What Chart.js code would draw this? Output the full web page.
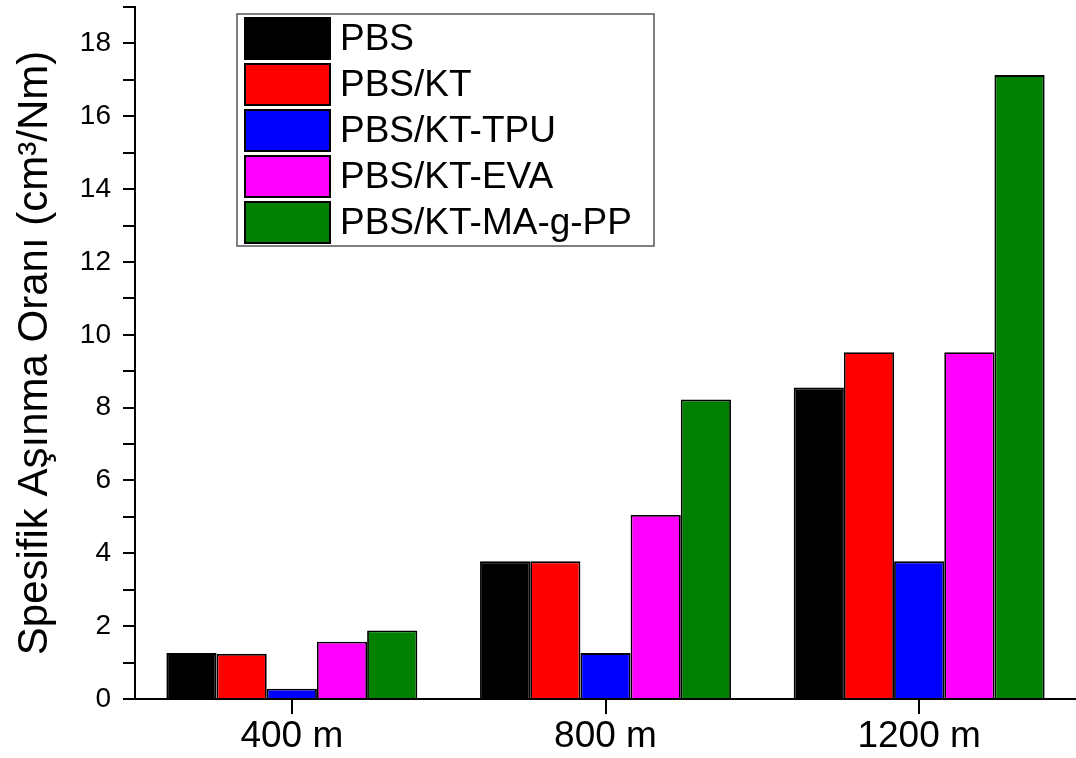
<!DOCTYPE html>
<html>
<head>
<meta charset="utf-8">
<script src="https://cdn.jsdelivr.net/npm/chart.js@4.4.1/dist/chart.umd.min.js"></script>
<style>
  html, body { margin: 0; padding: 0; background: #fff; }
  #wrap { width: 1076px; height: 758px; position: relative; }
</style>
</head>
<body>
<div id="wrap"><canvas id="c" width="1076" height="758"></canvas></div>
<script>
const categories = ['400 m', '800 m', '1200 m'];
const seriesNames = ['PBS', 'PBS/KT', 'PBS/KT-TPU', 'PBS/KT-EVA', 'PBS/KT-MA-g-PP'];
const pbs      = [1.26, 3.78, 8.55];
const pbsKT    = [1.24, 3.78, 9.52];
const pbsTPU   = [0.28, 1.26, 3.78];
const pbsEVA   = [1.57, 5.05, 9.52];
const pbsMAgPP = [1.88, 8.22, 17.13];
const yTickLabels = [0, 2, 4, 6, 8, 10, 12, 14, 16, 18];
const yTitle = 'Spesifik Aşınma Oranı (cm³/Nm)';

const colors = ['#000000', '#ff0000', '#0000ff', '#ff00ff', '#008000'];
const seriesValues = [pbs, pbsKT, pbsTPU, pbsEVA, pbsMAgPP];
const FONT = '"Liberation Sans", Arial, Helvetica, sans-serif';

const legendPlugin = {
  id: 'boxLegend',
  afterDraw(chart) {
    const ctx = chart.ctx;
    const bx = 237, by = 14, bw = 417, bh = 232;
    ctx.save();
    ctx.fillStyle = '#fff';
    ctx.fillRect(bx, by, bw, bh);
    ctx.strokeStyle = '#555';
    ctx.lineWidth = 1.5;
    ctx.strokeRect(bx, by, bw, bh);
    chart.data.datasets.forEach((ds, i) => {
      const sy = 18 + i * 46;
      ctx.fillStyle = ds.backgroundColor;
      ctx.fillRect(245, sy, 85, 41);
      ctx.strokeStyle = '#000';
      ctx.lineWidth = 2;
      ctx.strokeRect(245, sy, 85, 41);
      ctx.fillStyle = '#000';
      ctx.font = '37px ' + FONT;
      ctx.textBaseline = 'middle';
      ctx.textAlign = 'left';
      ctx.fillText(ds.label, 340, sy + 22);
    });
    ctx.restore();
  }
};

new Chart(document.getElementById('c'), {
  type: 'bar',
  data: {
    labels: categories,
    datasets: seriesNames.map((name, i) => ({
      label: name,
      data: seriesValues[i],
      backgroundColor: colors[i],
      borderColor: '#000',
      borderWidth: 1.8,
      categoryPercentage: 0.8,
      barPercentage: 1.0
    }))
  },
  options: {
    responsive: false,
    animation: false,
    devicePixelRatio: 1,
    layout: { padding: { top: 7, right: 0, left: 0, bottom: 0 } },
    plugins: {
      legend: { display: false },
      tooltip: { enabled: false }
    },
    scales: {
      x: {
        offset: true,
        grid: {
          offset: false,
          drawOnChartArea: false,
          drawTicks: true,
          tickLength: 15,
          color: '#000',
          lineWidth: 2
        },
        border: { display: true, color: '#000', width: 2 },
        ticks: {
          color: '#000',
          font: { family: FONT, size: 37 },
          padding: 1,
          maxRotation: 0
        },
        afterFit(scale) { scale.height = 59; scale.paddingLeft = 0; scale.paddingRight = 0; }
      },
      y: {
        min: 0,
        max: 19,
        grid: {
          drawOnChartArea: false,
          drawTicks: true,
          tickLength: 12,
          color: '#000',
          lineWidth: 2
        },
        border: { display: true, color: '#000', width: 2 },
        ticks: {
          stepSize: 1,
          autoSkip: false,
          color: '#000',
          font: { family: FONT, size: 28 },
          padding: 12,
          callback: (v) => yTickLabels.includes(v) ? String(v) : ''
        },
        title: {
          display: true,
          text: yTitle,
          color: '#000',
          font: { family: FONT, size: 42 },
          padding: { top: 10, bottom: 0 }
        },
        afterFit(scale) { scale.width = 135; scale.paddingTop = 0; scale.paddingBottom = 0; }
      }
    }
  },
  plugins: [legendPlugin]
});
</script>
</body>
</html>
